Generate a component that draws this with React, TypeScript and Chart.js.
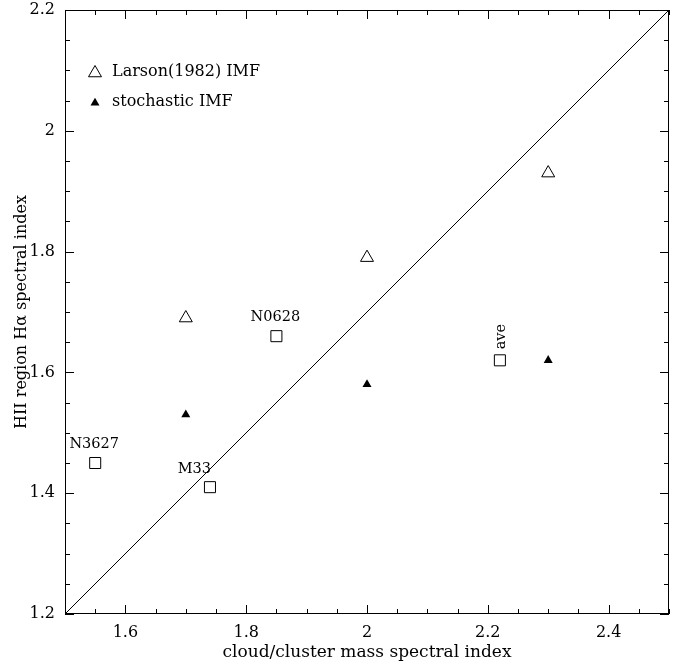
import React, { useEffect, useRef } from "react";
import { Chart, registerables } from "chart.js";

Chart.register(...registerables);

// ---- data ----
const larsonX = [1.7, 2.0, 2.3];
const larsonY = [1.69, 1.79, 1.93];
const stochX = [1.7, 2.0, 2.3];
const stochY = [1.53, 1.58, 1.62];
const galaxyNames = ["N3627", "M33", "N0628", "ave"];
const galaxyX = [1.55, 1.74, 1.85, 2.22];
const galaxyY = [1.45, 1.41, 1.66, 1.62];
const lineX = [1.5, 2.5];
const lineY = [1.2, 2.2];
const xTicks = [1.6, 1.8, 2.0, 2.2, 2.4];
const xTickLabels = ["1.6", "1.8", "2", "2.2", "2.4"];
const yTicks = [1.2, 1.4, 1.6, 1.8, 2.0, 2.2];
const yTickLabels = ["1.2", "1.4", "1.6", "1.8", "2", "2.2"];
const legendLabels = ["Larson(1982) IMF", "stochastic IMF"];

const FONT = "'DejaVu Serif', serif";

function tri(ctx: CanvasRenderingContext2D, x: number, y: number, r: number, fill: boolean) {
  ctx.beginPath();
  let a = 0;
  for (let i = 0; i < 3; i++) {
    const px = x + Math.sin(a) * r;
    const py = y - Math.cos(a) * r;
    if (i === 0) ctx.moveTo(px, py);
    else ctx.lineTo(px, py);
    a += (2 * Math.PI) / 3;
  }
  ctx.closePath();
  if (fill) {
    ctx.fillStyle = "#000";
    ctx.fill();
  } else {
    ctx.lineWidth = 1;
    ctx.strokeStyle = "#000";
    ctx.stroke();
  }
}

const decorPlugin = {
  id: "decor",
  afterDraw(chart: any) {
    const ctx: CanvasRenderingContext2D = chart.ctx;
    const { left, right, top, bottom } = chart.chartArea;
    const xs = chart.scales.x;
    const ys = chart.scales.y;
    ctx.save();
    ctx.strokeStyle = "#000";
    ctx.lineWidth = 1;
    ctx.strokeRect(Math.round(left) + 0.5, Math.round(top) + 0.5, Math.round(right - left) - 1, Math.round(bottom - top) - 1);
    // inward ticks
    const step = 0.05;
    ctx.beginPath();
    for (let k = 0; k <= 20; k++) {
      const v = xs.min + k * step;
      const major = Math.abs(v * 5 - Math.round(v * 5)) < 1e-6;
      const len = major ? 9 : 5;
      const px = Math.round(xs.getPixelForValue(v)) + 0.5;
      ctx.moveTo(px, bottom);
      ctx.lineTo(px, bottom - len);
      ctx.moveTo(px, top);
      ctx.lineTo(px, top + len);
    }
    for (let k = 0; k <= 20; k++) {
      const v = ys.min + k * step;
      const major = Math.abs(v * 5 - Math.round(v * 5)) < 1e-6;
      const len = major ? 9 : 5;
      const py = Math.round(ys.getPixelForValue(v)) + 0.5;
      ctx.moveTo(left, py);
      ctx.lineTo(left + len, py);
      ctx.moveTo(right, py);
      ctx.lineTo(right - len, py);
    }
    ctx.stroke();

    // legend
    ctx.font = `16px ${FONT}`;
    ctx.fillStyle = "#000";
    ctx.textBaseline = "middle";
    ctx.textAlign = "left";
    tri(ctx, left + 30, top + 63, 7.5, false);
    ctx.fillText(legendLabels[0], left + 47, top + 62);
    tri(ctx, left + 30, top + 93, 5.2, true);
    ctx.fillText(legendLabels[1], left + 47, top + 92);

    // galaxy labels
    const meta = chart.getDatasetMeta(2);
    ctx.font = `14.5px ${FONT}`;
    meta.data.forEach((pt: any, i: number) => {
      const name = galaxyNames[i];
      if (name === "ave") {
        ctx.save();
        ctx.translate(pt.x + 1, pt.y - 11);
        ctx.rotate(-Math.PI / 2);
        ctx.textAlign = "left";
        ctx.textBaseline = "middle";
        ctx.fillText(name, 0, 0);
        ctx.restore();
      } else if (name === "M33") {
        ctx.textAlign = "right";
        ctx.fillText(name, pt.x + 1, pt.y - 18);
      } else {
        ctx.textAlign = "center";
        ctx.fillText(name, pt.x - 1, pt.y - 19);
      }
    });
    ctx.restore();
  },
};

export default function App() {
  const ref = useRef<HTMLCanvasElement>(null);
  useEffect(() => {
    if (!ref.current) return;
    const chart = new Chart(ref.current, {
      type: "scatter",
      data: {
        datasets: [
          {
            label: "Larson",
            data: larsonX.map((x, i) => ({ x, y: larsonY[i] })),
            pointStyle: "triangle",
            pointRadius: 7.5,
            backgroundColor: "rgba(0,0,0,0)",
            borderColor: "#000",
            borderWidth: 1,
          },
          {
            label: "stochastic",
            data: stochX.map((x, i) => ({ x, y: stochY[i] })),
            pointStyle: "triangle",
            pointRadius: 5.2,
            backgroundColor: "#000",
            borderColor: "#000",
            borderWidth: 0,
          },
          {
            label: "galaxies",
            data: galaxyX.map((x, i) => ({ x, y: galaxyY[i] })),
            pointStyle: "rect",
            pointRadius: 7.8,
            backgroundColor: "rgba(0,0,0,0)",
            borderColor: "#000",
            borderWidth: 1,
          },
          {
            type: "line",
            label: "one-to-one",
            data: lineX.map((x, i) => ({ x, y: lineY[i] })),
            borderColor: "#000",
            borderWidth: 1,
            pointRadius: 0,
            fill: false,
          } as any,
        ],
      },
      options: {
        animation: false,
        responsive: false,
        layout: { padding: { top: 10, right: 19, left: 0, bottom: 0 } },
        plugins: { legend: { display: false }, tooltip: { enabled: false } },
        scales: {
          x: {
            type: "linear",
            min: 1.5,
            max: 2.5,
            grid: { display: false, drawTicks: false },
            border: { display: false },
            afterFit: (s: any) => {
              s.height = 52;
              s.paddingLeft = 0;
              s.paddingRight = 0;
            },
            afterBuildTicks: (s: any) => {
              s.ticks = xTicks.map((v) => ({ value: v }));
            },
            ticks: {
              padding: 9,
              color: "#000",
              font: { family: FONT, size: 16 },
              maxRotation: 0,
              callback: (v: any) => {
                const i = xTicks.findIndex((t) => Math.abs(t - v) < 1e-6);
                return i >= 0 ? xTickLabels[i] : "";
              },
            },
            title: {
              display: true,
              text: "cloud/cluster mass spectral index",
              color: "#000",
              font: { family: FONT, size: 17 },
              padding: { top: 0, bottom: 3 },
            },
          },
          y: {
            type: "linear",
            min: 1.2,
            max: 2.2,
            grid: { display: false, drawTicks: false },
            border: { display: false },
            afterFit: (s: any) => {
              s.width = 65;
              s.paddingTop = 0;
              s.paddingBottom = 0;
            },
            afterBuildTicks: (s: any) => {
              s.ticks = yTicks.map((v) => ({ value: v }));
            },
            ticks: {
              padding: 10,
              color: "#000",
              font: { family: FONT, size: 16 },
              callback: (v: any) => {
                const i = yTicks.findIndex((t) => Math.abs(t - v) < 1e-6);
                return i >= 0 ? yTickLabels[i] : "";
              },
            },
            title: {
              display: true,
              text: "HII region Hα spectral index",
              color: "#000",
              font: { family: FONT, size: 16 },
              padding: { top: 12, bottom: 0 },
            },
          },
        },
      },
      plugins: [decorPlugin],
    });
    return () => chart.destroy();
  }, []);
  return (
    <div style={{ position: "absolute", left: 0, top: 0, width: 688, height: 666 }}>
      <canvas ref={ref} width={688} height={666} style={{ width: 688, height: 666 }} />
    </div>
  );
}
